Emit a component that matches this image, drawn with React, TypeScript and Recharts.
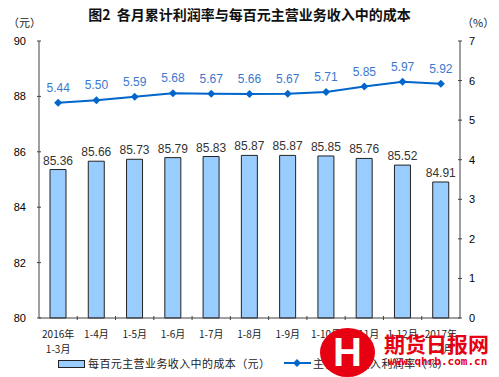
import { Bar, ComposedChart, LabelList, Legend, Line, XAxis, YAxis } from "recharts"

const months = ["2016年\n1-3月", "1-4月", "1-5月", "1-6月", "1-7月", "1-8月", "1-9月", "1-10月", "1-11月", "1-12月", "2017年\n1-2月"]
const costPer100 = [85.36, 85.66, 85.73, 85.79, 85.83, 85.87, 85.87, 85.85, 85.76, 85.52, 84.91]
const profitRate = [5.44, 5.5, 5.59, 5.68, 5.67, 5.66, 5.67, 5.71, 5.85, 5.97, 5.92]
const leftTicks = [80, 82, 84, 86, 88, 90]
const rightTicks = [0, 1, 2, 3, 4, 5, 6, 7]

const chartData = months.map((name, i) => ({
  name,
  cost: costPer100[i],
  rate: profitRate[i],
}))

const CN = "'Noto Sans CJK SC', sans-serif"
const NUM = "'Liberation Sans', Arial, sans-serif"
const AXIS = "#404040"
const BAND = 421 / months.length

function LeftTick({ x, y, payload }: any) {
  return (
    <g>
      <line x1={x} x2={x + 4} y1={y} y2={y} stroke={AXIS} />
      <text x={x - 11} y={y} dy={4} textAnchor="end" fontSize={11} fontFamily={NUM} fill="#000">
        {payload.value}
      </text>
    </g>
  )
}

function RightTick({ x, y, payload }: any) {
  return (
    <g>
      <line x1={x - 4} x2={x} y1={y} y2={y} stroke={AXIS} />
      <text x={x + 7} y={y} dy={4} textAnchor="start" fontSize={11} fontFamily={NUM} fill="#000">
        {payload.value}
      </text>
    </g>
  )
}

function MonthTick({ x, y, payload, index }: any) {
  const lines = String(payload.value).split("\n")
  return (
    <g>
      {index > 0 && <line x1={x - BAND / 2} x2={x - BAND / 2} y1={y - 4} y2={y} stroke={AXIS} />}
      {lines.map((t, i) => (
        <text key={i} x={x} y={y + 18 + i * 15} textAnchor="middle" fontSize={10} fontFamily={CN} fill="#222">
          {t}
        </text>
      ))}
    </g>
  )
}

function Diamond({ cx, cy }: any) {
  if (cx == null || cy == null) return null
  return <polygon points={`${cx},${cy - 4} ${cx + 4},${cy} ${cx},${cy + 4} ${cx - 4},${cy}`} fill="#0066CC" />
}

function LegendBox() {
  return (
    <div style={{ height: 24, position: "relative", fontFamily: CN, fontSize: 11, color: "#222" }}>
      <div style={{ position: "absolute", left: 58, top: 7, width: 25, height: 6, background: "#99CCFF", border: "1px solid #222" }} />
      <div style={{ position: "absolute", left: 88, top: 2, letterSpacing: 0.4 }}>每百元主营业务收入中的成本（元）</div>
      <svg style={{ position: "absolute", left: 284, top: 4 }} width={27} height={12}>
        <line x1={0} x2={27} y1={6} y2={6} stroke="#0066CC" strokeWidth={2} />
        <polygon points="13,2 17,6 13,10 9,6" fill="#0066CC" />
      </svg>
      <div style={{ position: "absolute", left: 313, top: 2, letterSpacing: 0.4 }}>主营业务收入利润率（%）</div>
    </div>
  )
}

export default function App() {
  return (
    <div style={{ position: "absolute", left: 0, top: 0, width: 499, height: 377, background: "#fff" }}>
      <div style={{ position: "absolute", left: 0, top: 4, width: 499, textAlign: "center", fontFamily: CN, fontWeight: "bold", fontSize: 14, color: "#111" }}>
        图2&nbsp;&nbsp;各月累计利润率与每百元主营业务收入中的成本
      </div>
      <div style={{ position: "absolute", left: 8, top: 14, fontFamily: CN, fontSize: 11, color: "#222" }}>（元）</div>
      <div style={{ position: "absolute", left: 462, top: 14, fontFamily: CN, fontSize: 11, color: "#222" }}>（%）</div>
      <ComposedChart width={499} height={377} data={chartData} margin={{ top: 41, right: 0, left: 0, bottom: 0 }}>
        <XAxis dataKey="name" xAxisId="top" orientation="top" height={0} tick={false} tickLine={false} axisLine={{ stroke: AXIS }} />
        <XAxis dataKey="name" interval={0} height={35} tickSize={0} tickLine={false} axisLine={{ stroke: AXIS }} tick={<MonthTick />} />
        <YAxis yAxisId="left" domain={[80, 90]} ticks={leftTicks} width={39} tickSize={0} tickLine={false} axisLine={{ stroke: AXIS }} tick={<LeftTick />} />
        <YAxis yAxisId="right" orientation="right" domain={[0, 7]} ticks={rightTicks} width={39} tickSize={0} tickLine={false} axisLine={{ stroke: AXIS }} tick={<RightTick />} />
        <Legend verticalAlign="bottom" content={<LegendBox />} />
        <Bar yAxisId="left" dataKey="cost" barSize={16} fill="#99CCFF" stroke="#222" strokeWidth={1} isAnimationActive={false}>
          <LabelList dataKey="cost" position="top" offset={5} fill="#333" fontSize={12} fontFamily={NUM} formatter={(v: any) => Number(v).toFixed(2)} />
        </Bar>
        <Line yAxisId="right" dataKey="rate" stroke="#0066CC" strokeWidth={2} dot={<Diamond />} activeDot={false} isAnimationActive={false}>
          <LabelList dataKey="rate" position="top" offset={11} fill="#3A78D0" fontSize={12} fontFamily={NUM} formatter={(v: any) => Number(v).toFixed(2)} />
        </Line>
      </ComposedChart>
      <div style={{ position: "absolute", left: 320, top: 328, width: 55, height: 49, borderRadius: "50%", background: "#E60012", color: "#fff", fontFamily: NUM, fontWeight: "bold", fontSize: 40, lineHeight: "49px", textAlign: "center" }}>
        H
      </div>
      <div style={{ position: "absolute", left: 384, top: 328, fontFamily: CN, fontWeight: "bold", fontSize: 21, color: "#E60012", letterSpacing: 0 }}>
        期货日报网
      </div>
      <div style={{ position: "absolute", left: 388, top: 355, fontFamily: "'DejaVu Sans Mono', monospace", fontWeight: "bold", fontSize: 11, color: "#E60012" }}>
        www.qhrb.com.cn
      </div>
    </div>
  )
}
